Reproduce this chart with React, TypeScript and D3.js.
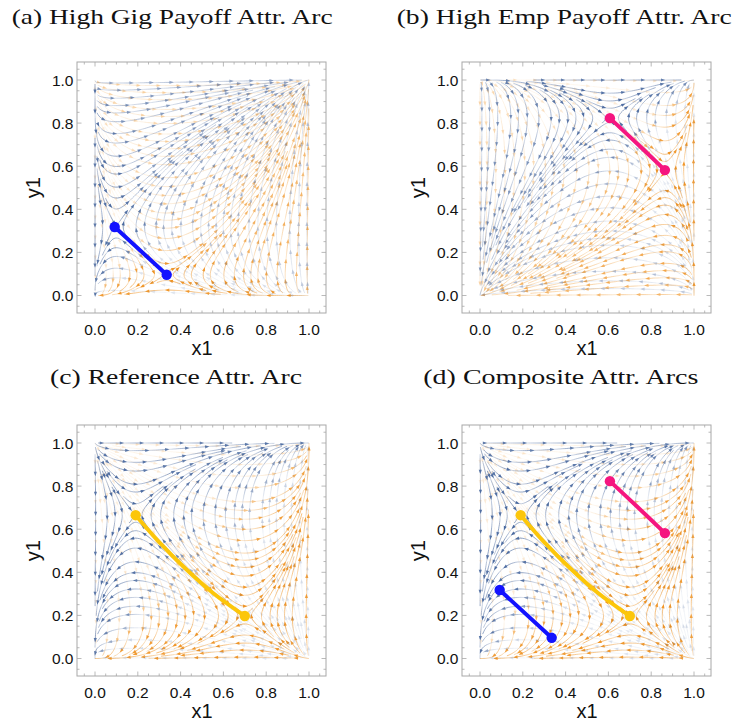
import React, { useMemo } from "react";
import * as d3 from "d3";

type Pt = [number, number];

const panelTitles = [
  "(a) High Gig Payoff Attr. Arc",
  "(b) High Emp Payoff Attr. Arc",
  "(c) Reference Attr. Arc",
  "(d) Composite Attr. Arcs",
];
// interior rest points (x1, y1) of the two overlaid flows in each panel
const blueRest: Pt[] = [[0.1, 0.32], [0.607, 0.823], [0.19, 0.665], [0.19, 0.665]];
const orangeRest: Pt[] = [[0.335, 0.096], [0.864, 0.582], [0.7, 0.197], [0.7, 0.197]];
// attractor arcs
const arcGig: Pt[] = [[0.092, 0.318], [0.335, 0.096]];
const arcEmp: Pt[] = [[0.607, 0.823], [0.735, 0.704], [0.864, 0.582]];
const arcRef: Pt[] = [[0.19, 0.665], [0.3, 0.54], [0.42, 0.42], [0.55, 0.305], [0.7, 0.197]];
const panelArcs: string[][] = [["gig"], ["emp"], ["ref"], ["ref", "emp", "gig"]];
const xTicks = [0, 0.2, 0.4, 0.6, 0.8, 1.0];
const yTicks = [0, 0.2, 0.4, 0.6, 0.8, 1.0];

const arcData: Record<string, Pt[]> = { gig: arcGig, emp: arcEmp, ref: arcRef };
const arcColor: Record<string, string> = { gig: "#1212ff", emp: "#f5157f", ref: "#fcc60a" };
const BLUE = "#45659c";
const ORANGE = "#ee8f1c";

const panelPos: Pt[] = [[77, 62], [462, 62], [77, 425], [462, 425]];
const titlePos = [
  { x: 11.7, y: 23.5, w: 321 },
  { x: 396.7, y: 23.5, w: 335 },
  { x: 50, y: 383.5, w: 252 },
  { x: 423.3, y: 383.5, w: 275 },
];
const FW = 249, FH = 251;
const PL = 18, PR = 232, PT = 18, PB = 233.5;

type Field = (x: number, y: number) => Pt;
const restField = (r: Pt): Field => (x, y) => [x * (1 - x) * (y - r[1]), y * (1 - y) * (x - r[0])];

function computeStreams(field: Field, W: number, H: number, dsep: number, dtest: number): Pt[][] {
  const step = 1.0, maxSteps = 1400, minLen = 10;
  const cs = dsep;
  const gw = Math.ceil(W / cs) + 3, gh = Math.ceil(H / cs) + 3;
  const grid: number[][] = [];
  for (let i = 0; i < gw * gh; i++) grid.push([]);
  const cidx = (x: number, y: number) => (Math.floor(y / cs) + 1) * gw + Math.floor(x / cs) + 1;
  const near = (x: number, y: number, r: number) => {
    const cx = Math.floor(x / cs) + 1, cy = Math.floor(y / cs) + 1, r2 = r * r;
    for (let j = cy - 1; j <= cy + 1; j++)
      for (let i = cx - 1; i <= cx + 1; i++) {
        if (i < 0 || j < 0 || i >= gw || j >= gh) continue;
        const a = grid[j * gw + i];
        for (let k = 0; k < a.length; k += 2) {
          const dx = a[k] - x, dy = a[k + 1] - y;
          if (dx * dx + dy * dy < r2) return true;
        }
      }
    return false;
  };
  const dirAt = (px: number, py: number) => {
    const x = Math.min(1, Math.max(0, px / W)), y = Math.min(1, Math.max(0, 1 - py / H));
    const [u, v] = field(x, y);
    if (Math.hypot(u, v) < 1.5e-4) return null;
    const vx = u * W, vy = -v * H;
    const s = Math.hypot(vx, vy);
    return [vx / s, vy / s];
  };
  const integrate = (sx: number, sy: number, sign: number) => {
    const pts: number[] = [];
    let x = sx, y = sy, pdx = 0, pdy = 0;
    for (let i = 0; i < maxSteps; i++) {
      const a = dirAt(x, y);
      if (!a) break;
      const b = dirAt(x + sign * a[0] * step * 0.5, y + sign * a[1] * step * 0.5);
      if (!b) break;
      const dx = sign * b[0], dy = sign * b[1];
      if (i > 0 && dx * pdx + dy * pdy < 0.5) break;
      const nx = x + dx * step, ny = y + dy * step;
      if (nx < -0.3 || ny < -0.3 || nx > W + 0.3 || ny > H + 0.3) break;
      if (near(nx, ny, dtest)) break;
      pts.push(nx, ny);
      x = nx; y = ny; pdx = dx; pdy = dy;
    }
    return pts;
  };
  const lines: Pt[][] = [];
  const queue: Pt[][] = [];
  const trySeed = (sx: number, sy: number) => {
    if (sx < 0 || sy < 0 || sx > W || sy > H) return;
    if (near(sx, sy, dsep)) return;
    const f = integrate(sx, sy, 1), b = integrate(sx, sy, -1);
    const pts: Pt[] = [];
    for (let k = b.length - 2; k >= 0; k -= 2) pts.push([b[k], b[k + 1]]);
    pts.push([sx, sy]);
    for (let k = 0; k < f.length; k += 2) pts.push([f[k], f[k + 1]]);
    if ((pts.length - 1) * step < minLen) return;
    for (const p of pts) grid[cidx(p[0], p[1])].push(p[0], p[1]);
    lines.push(pts);
    queue.push(pts);
  };
  const drain = () => {
    while (queue.length) {
      const L = queue.shift()!;
      for (let i = 1; i < L.length - 1; i += 2) {
        const dx = L[i + 1][0] - L[i - 1][0], dy = L[i + 1][1] - L[i - 1][1];
        const n = Math.hypot(dx, dy) || 1;
        const nx = -dy / n, ny = dx / n;
        trySeed(L[i][0] + nx * dsep, L[i][1] + ny * dsep);
        trySeed(L[i][0] - nx * dsep, L[i][1] - ny * dsep);
      }
    }
  };
  trySeed(W * 0.5, H * 0.5);
  drain();
  for (let gy = dsep / 2; gy < H; gy += dsep / 2)
    for (let gx = dsep / 2; gx < W; gx += dsep / 2) {
      trySeed(gx, gy);
      drain();
    }
  return lines.map((l) => l.map((p) => [p[0] / W, 1 - p[1] / H] as Pt));
}

type Rendered = { segs: Map<number, string>; arrows: Map<number, string> };

function renderField(
  lines: Pt[][],
  xs: d3.ScaleLinear<number, number>,
  ys: d3.ScaleLinear<number, number>,
  weight: (x: number, y: number) => number,
  L: number,
  phase: number
): Rendered {
  const segs = new Map<number, string>();
  const arrows = new Map<number, string>();
  const add = (m: Map<number, string>, k: number, s: string) => m.set(k, (m.get(k) || "") + s);
  const f = (v: number) => v.toFixed(1);
  lines.forEach((pts, li) => {
    const P = pts.map((p) => [xs(p[0]), ys(p[1])] as Pt);
    const Q: Pt[] = [P[0]];
    for (let i = 1; i < P.length; i++) {
      const l = Q[Q.length - 1];
      if (Math.hypot(P[i][0] - l[0], P[i][1] - l[1]) >= 1.6 || i === P.length - 1) Q.push(P[i]);
    }
    let s = (li * 7.37 + phase) % L;
    let curLvl = -1, cur = "";
    for (let i = 1; i < Q.length; i++) {
      const a = Q[i - 1], b = Q[i];
      const len = Math.hypot(b[0] - a[0], b[1] - a[1]);
      if (len === 0) continue;
      const s0 = s, s1 = s + len;
      const mx = (a[0] + b[0]) / 2, my = (a[1] + b[1]) / 2;
      const w = weight(xs.invert(mx), ys.invert(my));
      const t = (((s0 + s1) / 2) % L) / L;
      const fade = 0.3 + 0.7 * t;
      const alpha = w * fade;
      const lvl = Math.max(1, Math.min(20, Math.round(alpha * 20)));
      if (lvl !== curLvl) {
        if (cur) add(segs, curLvl, cur);
        cur = `M${f(a[0])},${f(a[1])}L${f(b[0])},${f(b[1])}`;
        curLvl = lvl;
      } else cur += `L${f(b[0])},${f(b[1])}`;
      if (Math.floor(s1 / L) > Math.floor(s0 / L)) {
        const ux = (b[0] - a[0]) / len, uy = (b[1] - a[1]) / len;
        const tx = b[0] + ux * 2.0, ty = b[1] + uy * 2.0;
        const bx = b[0] - ux * 2.4, by = b[1] - uy * 2.4;
        const al = Math.max(1, Math.min(20, Math.round(Math.min(1, w) * 20)));
        add(
          arrows,
          al,
          `M${f(tx)},${f(ty)}L${f(bx - uy * 1.6)},${f(by + ux * 1.6)}L${f(bx + uy * 1.6)},${f(by - ux * 1.6)}Z`
        );
      }
      s = s1;
    }
    if (cur) add(segs, curLvl, cur);
  });
  return { segs, arrows };
}

function Streams({ r, color }: { r: Rendered; color: string }) {
  return (
    <g>
      {[...r.segs.entries()].map(([k, d]) => (
        <path key={"s" + k} d={d} fill="none" stroke={color} strokeOpacity={k / 20} strokeWidth={0.75} />
      ))}
      {[...r.arrows.entries()].map(([k, d]) => (
        <path key={"a" + k} d={d} fill={color} fillOpacity={k / 20} stroke="none" />
      ))}
    </g>
  );
}

function Panel({ i, streams }: { i: number; streams: { blue: Pt[][]; orange: Pt[][] } }) {
  const [ox, oy] = panelPos[i];
  const xs = d3.scaleLinear().domain([0, 1]).range([ox + PL, ox + PR]);
  const ys = d3.scaleLinear().domain([0, 1]).range([oy + PB, oy + PT]);
  const bf = restField(blueRest[i]);
  const of = restField(orangeRest[i]);
  const wBlue = (x: number, y: number) => {
    const sb = Math.hypot(...bf(x, y)), so = Math.hypot(...of(x, y));
    const w = (so * so) / (sb * sb + so * so + 1e-12);
    return 0.12 + 0.83 * Math.pow(w, 1.4);
  };
  const wOrange = (x: number, y: number) => {
    const sb = Math.hypot(...bf(x, y)), so = Math.hypot(...of(x, y));
    const w = (sb * sb) / (sb * sb + so * so + 1e-12);
    return 0.12 + 0.83 * Math.pow(w, 1.4);
  };
  const rb = renderField(streams.blue, xs, ys, wBlue, 20, 3 + i);
  const ro = renderField(streams.orange, xs, ys, wOrange, 20, 11 + i);
  const minor = d3.range(-1, 22).map((k) => k * 0.05).filter((v) => v > -0.08 && v < 1.07);
  const line = d3.line<Pt>().x((d) => xs(d[0])).y((d) => ys(d[1])).curve(d3.curveCatmullRom);
  const sans = "'Liberation Sans', Arial, sans-serif";
  const tp = titlePos[i];
  return (
    <g>
      <text
        x={tp.x}
        y={tp.y}
        fontFamily="'Liberation Serif', 'DejaVu Serif', serif"
        fontSize={22}
        textLength={tp.w}
        lengthAdjust="spacingAndGlyphs"
        fill="#111"
      >
        {panelTitles[i]}
      </text>
      <Streams r={ro} color={ORANGE} />
      <Streams r={rb} color={BLUE} />
      <rect x={ox} y={oy} width={FW} height={FH} fill="none" stroke="#a8a8a8" strokeWidth={1} />
      {minor.map((v) => {
        const major = xTicks.some((t) => Math.abs(t - v) < 1e-6);
        const len = major ? 4.5 : 2.5;
        const px = xs(v), py = ys(v);
        return (
          <g key={v} stroke="#a8a8a8" strokeWidth={0.8}>
            <line x1={px} x2={px} y1={oy + FH} y2={oy + FH - len} />
            <line x1={px} x2={px} y1={oy} y2={oy + len} />
            <line x1={ox} x2={ox + len} y1={py} y2={py} />
            <line x1={ox + FW} x2={ox + FW - len} y1={py} y2={py} />
          </g>
        );
      })}
      {xTicks.map((t) => (
        <text key={"x" + t} x={xs(t)} y={oy + FH + 21.5} textAnchor="middle" fontFamily={sans} fontSize={15.5} fill="#111">
          {t.toFixed(1)}
        </text>
      ))}
      {yTicks.map((t) => (
        <text key={"y" + t} x={ox - 3.5} y={ys(t) + 5.5} textAnchor="end" fontFamily={sans} fontSize={15.5} fill="#111">
          {t.toFixed(1)}
        </text>
      ))}
      <text x={xs(0.5)} y={oy + 293} textAnchor="middle" fontFamily={sans} fontSize={20} fill="#111">
        x1
      </text>
      <text
        transform={`translate(${ox - 37},${ys(0.5)}) rotate(-90)`}
        textAnchor="middle"
        fontFamily={sans}
        fontSize={20}
        fill="#111"
      >
        y1
      </text>
      {panelArcs[i].map((name) => {
        const pts = arcData[name];
        const c = arcColor[name];
        return (
          <g key={name}>
            <path d={line(pts) || ""} fill="none" stroke={c} strokeWidth={4} strokeLinecap="round" />
            <circle cx={xs(pts[0][0])} cy={ys(pts[0][1])} r={5.2} fill={c} />
            <circle cx={xs(pts[pts.length - 1][0])} cy={ys(pts[pts.length - 1][1])} r={5.2} fill={c} />
          </g>
        );
      })}
    </g>
  );
}

export default function App() {
  const streams = useMemo(() => {
    const W = PR - PL, H = PB - PT;
    const out: { blue: Pt[][]; orange: Pt[][] }[] = [];
    for (let i = 0; i < 3; i++) {
      out.push({
        blue: computeStreams(restField(blueRest[i]), W, H, 7, 2.0),
        orange: computeStreams(restField(orangeRest[i]), W, H, 7, 2.0),
      });
    }
    out.push(out[2]);
    return out;
  }, []);
  return (
    <svg width={735} height={726} style={{ position: "absolute", left: 0, top: 0, background: "#fff" }}>
      {[0, 1, 2, 3].map((i) => (
        <Panel key={i} i={i} streams={streams[i]} />
      ))}
    </svg>
  );
}
